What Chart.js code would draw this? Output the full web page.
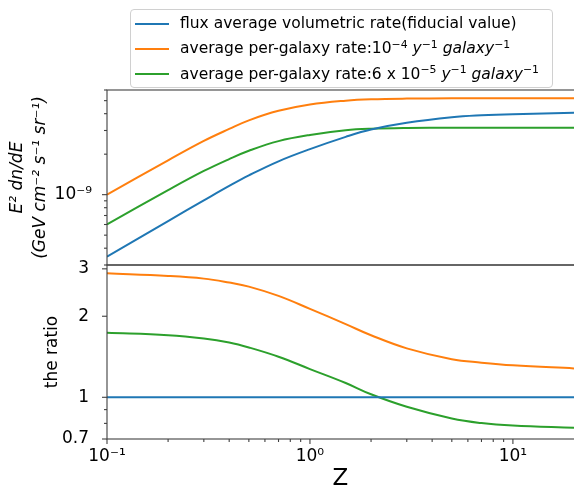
<!DOCTYPE html>
<html>
<head>
<meta charset="utf-8">
<script src="https://cdn.jsdelivr.net/npm/chart.js@4/dist/chart.umd.min.js"></script>
<style>
  body { margin: 0; background: #fff; }
  #wrap { position: relative; width: 574px; height: 491px; overflow: hidden; background: #fff; }
  #wrap canvas { position: absolute; left: 0; }
  #top { top: 0; }
  #bottom { top: 240px; }
  #legend {
    position: absolute; left: 130px; top: 9px; width: 423px; height: 79px;
    box-sizing: border-box; border: 1px solid #d0d0d0; border-radius: 4px;
    background: rgba(255,255,255,0.85); z-index: 5;
    font-family: 'DejaVu Sans', sans-serif; font-size: 15.5px; color: #000;
    padding-top: 1px;
  }
  #legend .row { height: 25.3px; line-height: 25.3px; white-space: nowrap; }
  #legend .sw { display: inline-block; width: 34px; height: 2px; margin: 0 11px 0 4px; vertical-align: middle; }
  #legend sup { font-size: 70%; vertical-align: baseline; position: relative; top: -0.5em; }
</style>
</head>
<body>
<div id="wrap">
  <canvas id="top" width="574" height="285"></canvas>
  <canvas id="bottom" width="574" height="251"></canvas>
  <div id="legend">
    <div class="row"><span class="sw" style="background:#1f77b4"></span>flux average volumetric rate(fiducial value)</div>
    <div class="row"><span class="sw" style="background:#ff7f0e"></span>average per-galaxy rate:10<sup>−4</sup> <i>y</i><sup>−1</sup> <i>galaxy</i><sup>−1</sup></div>
    <div class="row"><span class="sw" style="background:#2ca02c"></span>average per-galaxy rate:6 x 10<sup>−5</sup> <i>y</i><sup>−1</sup> <i>galaxy</i><sup>−1</sup></div>
  </div>
</div>
<script>
// redshift grid the curves were read at
const zValues = [0.1, 0.2, 0.3, 0.4, 0.5, 0.7, 1, 1.5, 2, 3, 5, 7, 10, 20];

// E^2 dn/dE (GeV cm^-2 s^-1 sr^-1)
const fluxFiducial = [3.46e-10, 6.37e-10, 9.06e-10, 1.16e-9, 1.39e-9, 1.77e-9, 2.18e-9, 2.69e-9, 3.05e-9, 3.42e-9, 3.76e-9, 3.89e-9, 3.97e-9, 4.06e-9];
const fluxRate1e4  = [1.0e-9, 1.80e-9, 2.51e-9, 3.08e-9, 3.57e-9, 4.2e-9, 4.68e-9, 5.0e-9, 5.12e-9, 5.18e-9, 5.2e-9, 5.2e-9, 5.2e-9, 5.2e-9];
const fluxRate6e5  = [6.01e-10, 1.08e-9, 1.50e-9, 1.84e-9, 2.12e-9, 2.50e-9, 2.78e-9, 3.01e-9, 3.09e-9, 3.13e-9, 3.14e-9, 3.14e-9, 3.14e-9, 3.14e-9];

// ratio to the fiducial curve
const ratioFiducial = [1, 1, 1, 1, 1, 1, 1, 1, 1, 1, 1, 1, 1, 1];
const ratioRate1e4  = [2.887, 2.823, 2.759, 2.667, 2.577, 2.38, 2.13, 1.87, 1.70, 1.52, 1.385, 1.345, 1.315, 1.28];
const ratioRate6e5  = [1.736, 1.701, 1.654, 1.598, 1.532, 1.415, 1.273, 1.13, 1.026, 0.922, 0.834, 0.802, 0.785, 0.770];

const seriesNames = ['flux average volumetric rate(fiducial value)', 'average per-galaxy rate:10^-4', 'average per-galaxy rate:6 x 10^-5'];
const seriesColors = ['#1f77b4', '#ff7f0e', '#2ca02c'];

// ticks
const xTicks = [0.1, 0.2, 0.3, 0.4, 0.5, 0.6, 0.7, 0.8, 0.9, 1, 2, 3, 4, 5, 6, 7, 8, 9, 10];
const xTickLabels = { 0.1: '10⁻¹', 1: '10⁰', 10: '10¹' };
const fluxTicks = [3e-10, 4e-10, 5e-10, 6e-10, 7e-10, 8e-10, 9e-10, 1e-9, 2e-9, 3e-9, 4e-9, 5e-9, 6e-9];
const fluxTickLabels = { 1e-9: '10⁻⁹' };
const ratioTicks = [0.7, 0.8, 0.9, 1, 2, 3];
const ratioTickLabels = { 0.7: '0.7', 1: '1', 2: '2', 3: '3' };

Chart.defaults.font.family = "'DejaVu Sans', sans-serif";
Chart.defaults.color = '#000';

const spine = '#404040';

// draws the frame and the matplotlib-style tick marks (long for labelled, short for minor)
const frameTicks = {
  id: 'frameTicks',
  afterDraw(chart) {
    const { ctx, chartArea: a } = chart;
    ctx.save();
    ctx.strokeStyle = spine;
    ctx.lineWidth = 1.1;
    ctx.strokeRect(a.left, a.top, a.right - a.left + 10, a.bottom - a.top);
    for (const id in chart.scales) {
      const s = chart.scales[id];
      if (!s.options.display) continue;
      s.ticks.forEach(t => {
        const p = s.getPixelForValue(t.value);
        const len = t.label ? 5 : 3;
        ctx.beginPath();
        if (s.isHorizontal()) { ctx.moveTo(p, a.bottom); ctx.lineTo(p, a.bottom + len); }
        else { ctx.moveTo(a.left, p); ctx.lineTo(a.left - len, p); }
        ctx.stroke();
      });
    }
    ctx.restore();
  }
};

function lines(values) {
  return values.map((v, k) => ({
    label: seriesNames[k],
    data: zValues.map((z, i) => ({ x: z, y: v[i] })),
    borderColor: seriesColors[k],
    borderWidth: 2,
    pointRadius: 0,
    fill: false,
    tension: 0.4
  }));
}

function xAxis(show) {
  return {
    type: 'logarithmic', min: 0.1, max: 20, display: show,
    grid: { display: false }, border: { display: false },
    afterBuildTicks: s => { s.ticks = xTicks.map(v => ({ value: v })); },
    afterFit: s => { s.height = show ? 52 : 0; },
    ticks: { autoSkip: false, maxRotation: 0, padding: -1, font: { size: 17 },
      callback: v => xTickLabels[v] || '' },
    title: { display: show, text: 'Z', font: { size: 23, lineHeight: 1 }, padding: 0 }
  };
}

new Chart(document.getElementById('top'), {
  type: 'line',
  data: { datasets: lines([fluxFiducial, fluxRate1e4, fluxRate6e5]) },
  options: {
    responsive: false, animation: false, devicePixelRatio: 1,
    layout: { padding: { top: 90, bottom: 20, left: 0, right: 0 } },
    plugins: { legend: { display: false }, tooltip: { enabled: false } },
    scales: {
      x: xAxis(false),
      y: {
        type: 'logarithmic', min: 3e-10, max: 6e-9,
        grid: { display: false }, border: { display: false },
        afterBuildTicks: s => { s.ticks = fluxTicks.map(v => ({ value: v })); },
        afterFit: s => { s.width = 107; },
        ticks: { autoSkip: false, padding: 7, font: { size: 17 },
          callback: v => fluxTickLabels[v] || '' },
        title: { display: true, text: ['E² dn/dE', '(GeV cm⁻² s⁻¹ sr⁻¹)'],
          font: { size: 17, style: 'italic', lineHeight: 1.3 }, padding: { top: 7, bottom: 0 } }
      }
    }
  },
  plugins: [frameTicks]
});

new Chart(document.getElementById('bottom'), {
  type: 'line',
  data: { datasets: lines([ratioFiducial, ratioRate1e4, ratioRate6e5]) },
  options: {
    responsive: false, animation: false, devicePixelRatio: 1,
    layout: { padding: { top: 25, bottom: 0, left: 0, right: 0 } },
    plugins: { legend: { display: false }, tooltip: { enabled: false } },
    scales: {
      x: xAxis(true),
      y: {
        type: 'logarithmic', min: 0.7, max: 3.1,
        grid: { display: false }, border: { display: false },
        afterBuildTicks: s => { s.ticks = ratioTicks.map(v => ({ value: v })); },
        afterFit: s => { s.width = 107; },
        ticks: { autoSkip: false, padding: 10, font: { size: 17 },
          callback: v => ratioTickLabels[v] || '' },
        title: { display: true, text: 'the ratio', font: { size: 17, lineHeight: 1 }, padding: { top: 44, bottom: 0 } }
      }
    }
  },
  plugins: [frameTicks]
});
</script>
</body>
</html>
